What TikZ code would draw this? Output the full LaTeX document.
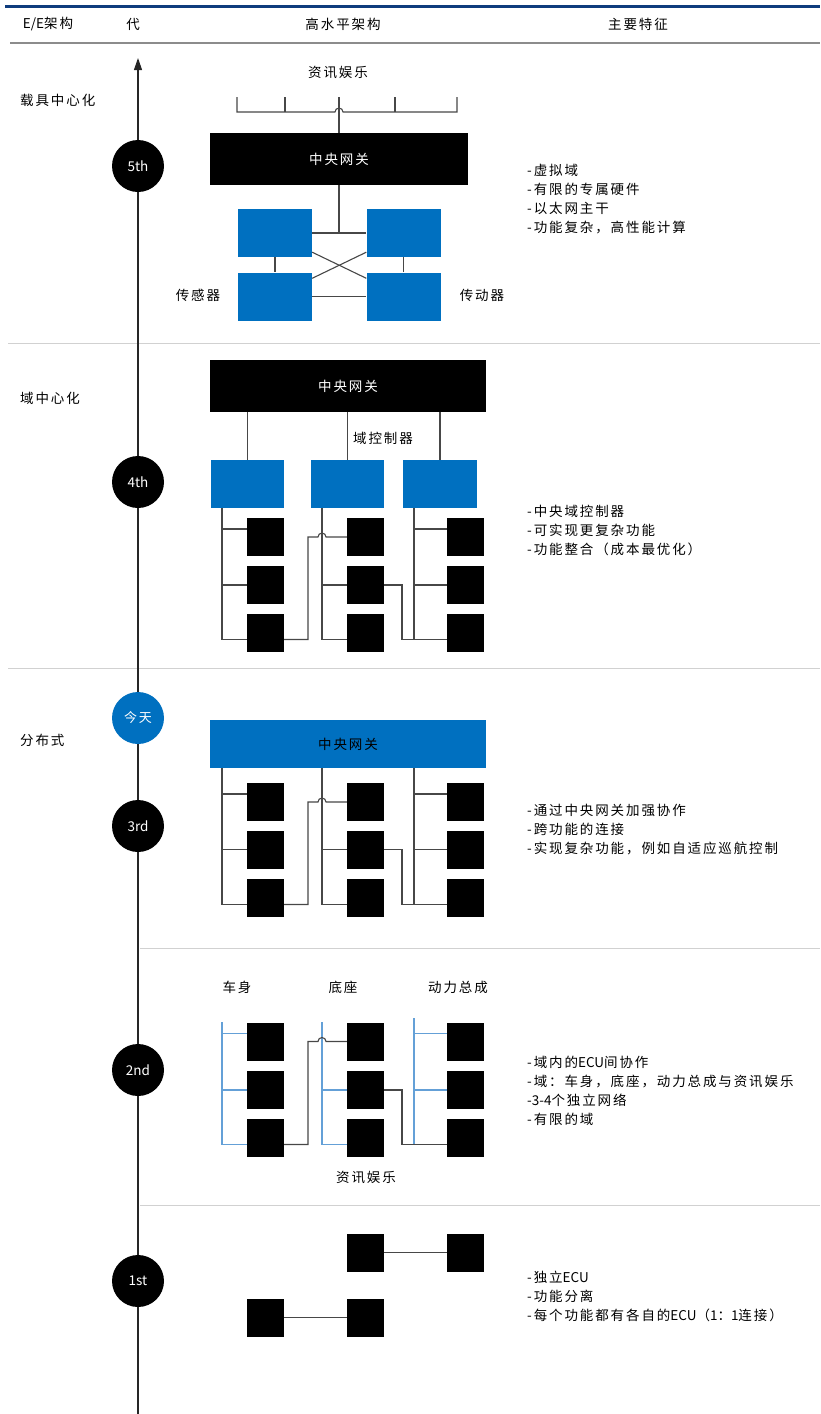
\documentclass[tikz,border=0pt]{standalone}
\usepackage{fontspec}
\newfontfamily\cjk[LetterSpace=14]{Noto Sans CJK SC}
\newfontfamily\cjkn{Noto Sans CJK SC}
\usetikzlibrary{arrows.meta,calc}
\definecolor{boxblue}{RGB}{0,112,192}
\definecolor{busblue}{RGB}{100,160,215}
\definecolor{topblue}{RGB}{14,60,125}
\newcommand\lat[1]{{\cjkn #1}}

\newcommand\ECUsec[5]{%
  % #1 prefix, #2 #3 #4 row centres, #5 bus style
  \foreach \cc/\xx in {1/265.5,2/365.5,3/465.5}{%
    \foreach \rr/\yy in {1/#2,2/#3,3/#4}{%
      \node[ecu] (#1\cc\rr) at (\xx,\yy) {};}}
  % column 1 bus
  \draw[#5] (#1T1) |- ([yshift=-7pt]#113.west);
  \path ([yshift=8pt]#111.west) coordinate (#1a);
  \draw[#5] (#1a) -- (#1a -| #1T1);
  \draw[#5] (#112.west) -- (#112.west -| #1T1);
  % column 2 bus
  \draw[#5] (#1T2) |- ([yshift=-7pt]#123.west);
  \draw[#5] (#122.west) -- (#122.west -| #1T2);
  % column 3 bus
  \draw[#5] (#1T3) |- ([yshift=-7pt]#133.west);
  \path ([yshift=8pt]#131.west) coordinate (#1b);
  \draw[#5] (#1b) -- (#1b -| #1T3);
  \draw[#5] (#132.west) -- (#132.west -| #1T3);
  % cross connectors
  \path ([yshift=-7pt]#113.east) coordinate (#1c);
  \draw[wire] (#1c) -| ($(#1T2 |- #121.west)+(-14,0)$) -- ++(10,0)
     arc[start angle=180,end angle=360,radius=4] -- (#121.west);
  \draw[wire] (#122.east) -| ($(#1T3 |- #133.west)+(-12,7)$) -- ([yshift=-7pt]#133.west);
}

\begin{document}
\begin{tikzpicture}[x=1pt,y=-1pt,
  txt/.style={font=\cjk\fontsize{13.5}{19}\selectfont, inner sep=0},
  ecu/.style={fill=black, minimum width=37pt, minimum height=38pt, inner sep=0},
  blu/.style={fill=boxblue, minimum width=74pt, minimum height=48pt, inner sep=0},
  gw/.style={minimum height=52pt, inner sep=0, font=\cjk\fontsize{13.5}{19}\selectfont},
  wire/.style={draw=black!72, line width=1.1pt},
  bluewire/.style={draw=busblue, line width=1.1pt},
  gen/.style={circle, fill=black, minimum size=52pt, inner sep=0, text=white, font=\cjkn\fontsize{13.5}{14}\selectfont},
  sep/.style={draw=black!18, line width=1pt},
  feat/.style={txt, align=left, anchor=north west},
]
\useasboundingbox (0,0) rectangle (820,1414);

% header
\draw[topblue, line width=3pt] (5,6) -- (820,6);
\node[txt] (hEE) at (48,24) {\lat{E/E}架构};
\node[txt] (hGen) at (133,24) {代};
\node[txt] (hArch) at (343,24) {高水平架构};
\node[txt] (hFeat) at (638,24) {主要特征};
\draw[black!45, line width=1.5pt] (10,43) -- (820,43);

% separators
\draw[sep] (8,343) -- (820,343);
\draw[sep] (8,668) -- (820,668);
\draw[sep] (140,948) -- (820,948);
\draw[sep] (140,1205) -- (820,1205);

% axis
\coordinate (axb) at (138,1414);
\coordinate (axt) at (138,58);
\draw[line width=1.1pt, black!85, -{Triangle[length=12pt,width=8pt]}] (axb) -- (axt);

\node[gen] (g5) at (138,166) {5th};
\node[gen] (g4) at (138,482) {4th};
\node[gen, fill=boxblue, font=\cjk\fontsize{13}{14}\selectfont] (gt) at (138,718) {今天};
\node[gen] (g3) at (138,826) {3rd};
\node[gen] (g2) at (138,1070) {2nd};
\node[gen] (g1) at (138,1281) {1st};

\node[txt, anchor=west] (l5) at (20,100) {载具中心化};
\node[txt, anchor=west] (l4) at (20,398) {域中心化};
\node[txt, anchor=west] (l3) at (20,740) {分布式};

% ---------- 5th ----------
\node[txt] (info5) at (338,72) {资讯娱乐};
\node[gw, fill=black, text=white, minimum width=258pt] (gw5) at (339,159) {中央网关};
\coordinate (t1) at (237,97);
\coordinate (t2) at (285,97);
\coordinate (t3) at (339,97);
\coordinate (t4) at (395,97);
\coordinate (t5) at (457,97);
\coordinate (bl) at (237,112);
\coordinate (hopL) at (335,112);
\coordinate (br) at (457,112);
\draw[wire] (t1) -- (bl) -- (hopL) arc[start angle=180,end angle=360,radius=4] -- (br) -- (t5);
\draw[wire] (t2) -- (t2 |- bl);
\draw[wire] (t4) -- (t4 |- bl);
\draw[wire] (t3) -- (gw5.north);

\node[blu] (s1) at (275,233) {};
\node[blu] (s2) at (403.5,233) {};
\node[blu] (s3) at (275,296.5) {};
\node[blu] (s4) at (403.5,296.5) {};
\draw[wire] (s1.east) -- (s2.west);
\draw[wire] (gw5.south) -- (gw5.south |- s1.east);
\draw[wire] ([yshift=5pt]s1.south east) -- ([yshift=-6pt]s4.north west);
\draw[wire] ([yshift=-6pt]s3.north east) -- ([yshift=5pt]s2.south west);
\draw[wire] (s1.south) -- (s3.north);
\draw[wire] (s2.south) -- (s4.north);
\draw[wire] (s3.east) -- (s4.west);
\node[txt] (sens) at (198,295) {传感器};
\node[txt] (act) at (482,295) {传动器};

\node[feat] (f5) at (527,164) {-虚拟域\\-有限的专属硬件\\-以太网主干\\-功能复杂，高性能计算};

% ---------- 4th ----------
\node[gw, fill=black, text=white, minimum width=276pt] (gw4) at (348,386) {中央网关};
\node[blu, minimum width=73pt] (d1) at (247.5,484) {};
\node[blu, minimum width=73pt] (d2) at (347.5,484) {};
\node[blu] (d3) at (440,484) {};
\draw[wire] (gw4.south -| d1.north) -- (d1.north);
\draw[wire] (gw4.south -| d2.north) -- (d2.north);
\draw[wire] (gw4.south -| d3.north) -- (d3.north);
\node[txt] (dc) at (383,438) {域控制器};
\coordinate (PT1) at (222,508);
\coordinate (PT2) at (322,508);
\coordinate (PT3) at (414,508);
\ECUsec{P}{537}{585}{632.5}{wire}
\node[feat] (f4) at (527,505) {-中央域控制器\\-可实现更复杂功能\\-功能整合（成本最优化）};

% ---------- 3rd ----------
\node[gw, fill=boxblue, text=black, minimum width=276pt, minimum height=48pt] (gw3) at (348,744) {中央网关};
\coordinate (QT1) at (222,768);
\coordinate (QT2) at (322,768);
\coordinate (QT3) at (414,768);
\ECUsec{Q}{802}{849.5}{897.5}{wire}
\node[feat] (f3) at (527,804) {-通过中央网关加强协作\\-跨功能的连接\\-实现复杂功能，例如自适应巡航控制};

% ---------- 2nd ----------
\node[txt] (body) at (237,987) {车身};
\node[txt] (chas) at (343,987) {底座};
\node[txt] (pwr) at (458,987) {动力总成};
\coordinate (RT1) at (222,1022);
\coordinate (RT2) at (322,1022);
\coordinate (RT3) at (414,1018);
\ECUsec{R}{1041.5}{1090}{1137.5}{bluewire}
\node[txt] (info2) at (366,1177) {资讯娱乐};
\node[feat] (f2) at (527,1056) {-域内的\lat{ECU}间协作\\-域：车身，底座，动力总成与资讯娱乐\\-\lat{3-4}个独立网络\\-有限的域};

% ---------- 1st ----------
\node[ecu] (o1) at (365.5,1252.5) {};
\node[ecu] (o2) at (465.5,1252.5) {};
\node[ecu] (o3) at (265.5,1317.5) {};
\node[ecu] (o4) at (365.5,1317.5) {};
\draw[wire] (o1) -- (o2);
\draw[wire] (o3) -- (o4);
\node[feat] (f1) at (527,1271) {-独立\lat{ECU}\\-功能分离\\-每个功能都有各自的\lat{ECU}（\lat{1}：\lat{1}连接）};

\end{tikzpicture}
\end{document}
